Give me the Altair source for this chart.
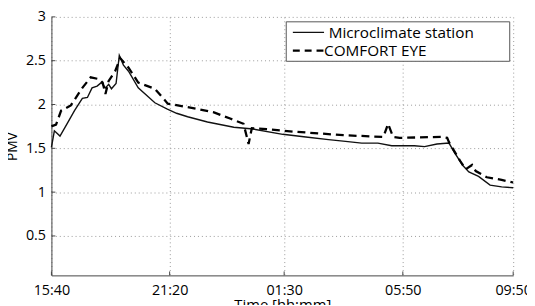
import altair as alt
import pandas as pd

# Sample index (0..100 across the plot) and PMV values
SOLID_T = [0, 0.64, 1.86, 3.5, 5.0, 6.7, 7.8, 8.8, 9.9, 10.8, 11.7, 12.4, 13.0, 14.0, 14.7,
           15.6, 16.7, 18.8, 22.4, 25.0, 27.1, 29.5, 33.8, 39.5, 43.7, 50.1, 55.1, 60.0,
           63.7, 67.2, 70.7, 73.7, 78.6, 80.8, 83.5, 86.1, 87.2, 89.0, 90.4, 92.5, 95.0,
           97.5, 100]
SOLID_V = [1.51, 1.70, 1.64, 1.79, 1.93, 2.07, 2.08, 2.19, 2.21, 2.25, 2.19, 2.23, 2.18, 2.24, 2.56,
           2.45, 2.38, 2.19, 2.02, 1.95, 1.90, 1.86, 1.80, 1.74, 1.72, 1.66, 1.63, 1.60,
           1.58, 1.56, 1.56, 1.53, 1.53, 1.52, 1.55, 1.56, 1.46, 1.31, 1.23, 1.18, 1.08,
           1.06, 1.05]

DASH_T = [0, 1.0, 2.1, 4.2, 6.7, 8.5, 10.3, 11.1, 11.7, 12.4, 13.8, 14.9, 16.7, 18.8,
          22.4, 25.2, 31.6, 35.2, 38.7, 41.6, 42.7, 43.4, 46.6, 52.6, 63.2, 71.9, 72.9,
          74.0, 75.4, 84.7, 85.7, 86.1, 87.9, 88.6, 89.7, 91.1, 91.9, 94.3, 97.5, 100]
DASH_V = [1.75, 1.77, 1.93, 1.99, 2.19, 2.31, 2.29, 2.25, 2.12, 2.27, 2.38, 2.53, 2.42, 2.25,
          2.18, 2.01, 1.95, 1.91, 1.84, 1.78, 1.55, 1.73, 1.72, 1.69, 1.65, 1.63, 1.78,
          1.63, 1.62, 1.63, 1.62, 1.57, 1.41, 1.35, 1.26, 1.31, 1.24, 1.17, 1.14, 1.11]

X_TICKS = [0, 25.6, 50.4, 76.1, 100]
X_LABELS = ["15:40", "21:20", "01:30", "05:50", "09:50"]
Y_TICKS = [0.5, 1, 1.5, 2, 2.5, 3]
LEGEND_LABELS = ["Microclimate station", "COMFORT EYE"]

FONT = "Open Sans"
W, H = 468, 262

solid_df = pd.DataFrame({"t": SOLID_T, "pmv": SOLID_V})
dash_df = pd.DataFrame({"t": DASH_T, "pmv": DASH_V})
xt_df = pd.DataFrame({"t": X_TICKS})
yt_df = pd.DataFrame({"pmv": Y_TICKS})

label_expr = " : ".join(
    f"datum.value == {v} ? '{l}'" for v, l in zip(X_TICKS, X_LABELS)
) + " : ''"

xscale = alt.Scale(domain=[0, 100], nice=False, zero=False)
yscale = alt.Scale(domain=[0.05, 3], nice=False, zero=False)

x_axis = alt.Axis(values=X_TICKS, labelExpr=label_expr, title="Time [hh:mm]",
                  grid=True, gridDash=[1, 3], gridColor="#999", ticks=False, tickSize=0,
                  labelPadding=8, titlePadding=1, domainColor="#444",
                  labelFontSize=14.5, titleFontSize=15, labelFont=FONT, titleFont=FONT,
                  labelColor="#000", titleColor="#000", titleFontWeight="normal",
                  labelFlush=False, labelOverlap=False)
y_axis = alt.Axis(values=Y_TICKS, labelExpr="toString(datum.value)", title="PMV",
                  grid=True, gridDash=[1, 3], gridColor="#999", ticks=False, tickSize=0,
                  labelPadding=6, titlePadding=6, domainColor="#444",
                  labelFontSize=14.5, titleFontSize=14, labelFont=FONT, titleFont=FONT,
                  labelColor="#000", titleColor="#000", titleFontWeight="normal",
                  labelFlush=False, labelOverlap=False)

solid = alt.Chart(solid_df).mark_line(color="#111", strokeWidth=1.4).encode(
    x=alt.X("t:Q", scale=xscale, axis=x_axis),
    y=alt.Y("pmv:Q", scale=yscale, axis=y_axis),
)
dashed = alt.Chart(dash_df).mark_line(color="#000", strokeWidth=2.3, strokeDash=[8, 5]).encode(
    x=alt.X("t:Q", scale=xscale),
    y=alt.Y("pmv:Q", scale=yscale),
)

xticks = alt.Chart(xt_df).mark_rule(color="#444", strokeWidth=1).encode(
    x=alt.X("t:Q", scale=xscale), y=alt.value(H), y2=alt.value(H - 4))
yticks = alt.Chart(yt_df).mark_rule(color="#444", strokeWidth=1).encode(
    y=alt.Y("pmv:Q", scale=yscale), x=alt.value(0), x2=alt.value(4))

one = pd.DataFrame({"a": [0]})
legend_box = alt.Chart(one).mark_rect(fill="white", stroke="#555", strokeWidth=1).encode(
    x=alt.value(238), x2=alt.value(464.5), y=alt.value(5), y2=alt.value(45))
leg_solid = alt.Chart(one).mark_rule(color="#111", strokeWidth=1.4).encode(
    x=alt.value(244.7), x2=alt.value(276.3), y=alt.value(15.7))
leg_dash = alt.Chart(one).mark_rule(color="#000", strokeWidth=2.3, strokeDash=[7, 5]).encode(
    x=alt.value(244.7), x2=alt.value(276.3), y=alt.value(34.3))
leg_t1 = alt.Chart(one).mark_text(align="left", baseline="middle", fontSize=15.5, font=FONT,
                                  color="#000").encode(
    x=alt.value(281), y=alt.value(16), text=alt.value(LEGEND_LABELS[0]))
leg_t2 = alt.Chart(one).mark_text(align="left", baseline="middle", fontSize=15.5, font=FONT,
                                  color="#000").encode(
    x=alt.value(276.3), y=alt.value(34.7), text=alt.value(LEGEND_LABELS[1]))

chart = alt.layer(
    solid, dashed, xticks, yticks, legend_box, leg_solid, leg_dash, leg_t1, leg_t2
).properties(
    width=W, height=H,
    autosize=alt.AutoSizeParams(type="none"),
    padding={"left": 44, "top": 7, "right": 14, "bottom": 28},
    background="white",
).configure_view(stroke=None)

chart.save("out.html", embed_options={"renderer": "svg", "actions": False})
